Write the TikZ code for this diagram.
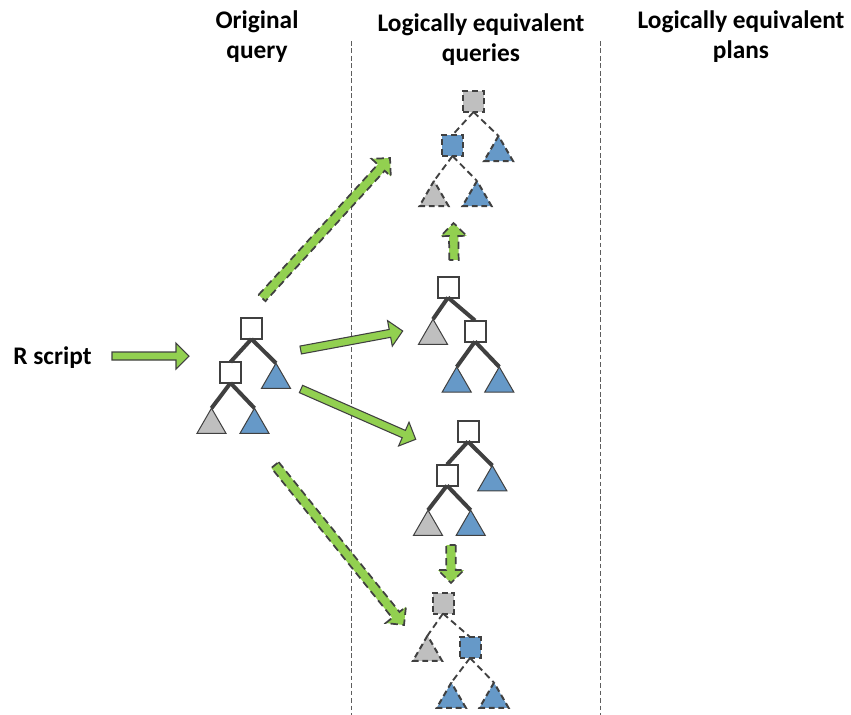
\documentclass[tikz,border=0pt]{standalone}
\usepackage{fontspec}
\setmainfont{Carlito}
\usetikzlibrary{shapes.geometric,calc}
\definecolor{ln}{HTML}{404040}
\definecolor{gy}{HTML}{BFBFBF}
\definecolor{bl}{HTML}{6699C8}
\definecolor{gr}{HTML}{92D050}
\tikzset{
  sq/.style={rectangle,draw=ln,minimum size=15.75pt,inner sep=0pt,outer sep=0pt},
  tri/.style={regular polygon,regular polygon sides=3,draw=ln,minimum size=25.2pt,inner sep=0pt,outer sep=0pt},
  solidbox/.style={line width=1.5pt,fill=white},
  dashbox/.style={line width=1.5pt,dash pattern=on 4.4pt off 2.8pt},
  solidtri/.style={line width=0.75pt},
  edgeS/.style={draw=ln,line width=3pt},
  edgeD/.style={draw=ln,line width=1.4pt,dash pattern=on 5pt off 3pt},
  arS/.style={draw=ln,line width=0.8pt,fill=gr,line join=miter},
  arD/.style={draw=ln,line width=1.3pt,fill=gr,dash pattern=on 5.5pt off 3.4pt},
  sep/.style={draw=ln!85,line width=0.55pt,dash pattern=on 3.6pt off 2pt},
  ttl/.style={font=\fontsize{19}{22.2}\selectfont\bfseries,align=center,inner sep=0pt,text=black}
}
% #1 style, #2 tail, #3 tip, #4 half shaft width
\newcommand\fatarrow[4]{%
  \coordinate (h) at ($(#3)!9.75pt!(#2)$);
  \draw[#1] ($(#2)!#4!90:(#3)$) -- ($(h)!#4!-90:(#2)$) -- ($(h)!9.75pt!-90:(#2)$) -- (#3)
    -- ($(h)!9.75pt!90:(#2)$) -- ($(h)!#4!90:(#2)$) -- ($(#2)!#4!-90:(#3)$) -- cycle;
}
\begin{document}
\begin{tikzpicture}[x=0.75pt,y=-0.75pt]
\useasboundingbox (0,0) rectangle (851,715);
% separators
\coordinate (s1t) at (351.5,41); \coordinate (s1b) at (351.5,715);
\coordinate (s2t) at (600.5,41); \coordinate (s2b) at (600.5,715);
\draw[sep] (s1t) -- (s1b);
\draw[sep] (s2t) -- (s2b);
% titles
\node[ttl] (t1) at (257,36.5) {Original\\query};
\node[ttl] (t2) at (481,39.5) {Logically equivalent\\queries};
\node[ttl] (t3) at (741,36.5) {Logically equivalent\\plans};
\node[ttl] (rs) at (52.5,358) {R script};
% original tree
\node[sq,solidbox] (a1) at (251.5,328.5) {};
\node[sq,solidbox] (a2) at (230.5,372.5) {};
\node[tri,solidtri,fill=bl] (a3) at (276,380) {};
\node[tri,solidtri,fill=gy] (a4) at (211.5,425) {};
\node[tri,solidtri,fill=bl] (a5) at (254.5,425) {};
\draw[edgeS] (a1.south) -- (a2.north);
\draw[edgeS] (a1.south) -- (a3.corner 1);
\draw[edgeS] (a2.south) -- (a4.corner 1);
\draw[edgeS] (a2.south) -- (a5.corner 1);
% top dashed tree
\node[sq,dashbox,fill=gy] (b1) at (473.5,101.5) {};
\node[sq,dashbox,fill=bl] (b2) at (452.5,145.5) {};
\node[tri,dashbox,fill=bl] (b3) at (498.5,152.7) {};
\node[tri,dashbox,fill=gy] (b4) at (434,197.7) {};
\node[tri,dashbox,fill=bl] (b5) at (477,197.7) {};
\draw[edgeD] (b1.south) -- (b2.north);
\draw[edgeD] (b1.south) -- (b3.corner 1);
\draw[edgeD] (b2.south) -- (b4.corner 1);
\draw[edgeD] (b2.south) -- (b5.corner 1);
% second tree
\node[sq,solidbox] (c1) at (448,287) {};
\node[sq,solidbox] (c2) at (475,331) {};
\node[tri,solidtri,fill=gy] (c3) at (433,336) {};
\node[tri,solidtri,fill=bl] (c4) at (456.7,383.7) {};
\node[tri,solidtri,fill=bl] (c5) at (499.3,383.7) {};
\draw[edgeS] (c1.south) -- (c3.corner 1);
\draw[edgeS] (c1.south) -- (c2.north);
\draw[edgeS] (c2.south) -- (c4.corner 1);
\draw[edgeS] (c2.south) -- (c5.corner 1);
% third tree
\node[sq,solidbox] (d1) at (468,431) {};
\node[sq,solidbox] (d2) at (447,475) {};
\node[tri,solidtri,fill=bl] (d3) at (492.3,482.4) {};
\node[tri,solidtri,fill=gy] (d4) at (428,527) {};
\node[tri,solidtri,fill=bl] (d5) at (470.7,527) {};
\draw[edgeS] (d1.south) -- (d2.north);
\draw[edgeS] (d1.south) -- (d3.corner 1);
\draw[edgeS] (d2.south) -- (d4.corner 1);
\draw[edgeS] (d2.south) -- (d5.corner 1);
% bottom dashed tree
\node[sq,dashbox,fill=gy] (e1) at (443,603) {};
\node[sq,dashbox,fill=bl] (e2) at (470,647.5) {};
\node[tri,dashbox,fill=gy] (e3) at (427.5,652.4) {};
\node[tri,dashbox,fill=bl] (e4) at (451.3,699.4) {};
\node[tri,dashbox,fill=bl] (e5) at (494,699.4) {};
\draw[edgeD] (e1.south) -- (e3.corner 1);
\draw[edgeD] (e1.south) -- (e2.north);
\draw[edgeD] (e2.south) -- (e4.corner 1);
\draw[edgeD] (e2.south) -- (e5.corner 1);
% arrows
\coordinate (r0) at (112,356); \coordinate (r1) at (189,356);
\fatarrow{arS}{r0}{r1}{3pt}
\coordinate (p0) at (300.7,350); \coordinate (p1) at (402.7,331);
\fatarrow{arS}{p0}{p1}{3pt}
\coordinate (q0) at (301,389); \coordinate (q1) at (415.7,439.3);
\fatarrow{arS}{q0}{q1}{3pt}
\coordinate (u0) at (262,298); \coordinate (u1) at (390,158);
\fatarrow{arD}{u0}{u1}{3.5pt}
\coordinate (v0) at (275,465); \coordinate (v1) at (404,625);
\fatarrow{arD}{v0}{v1}{3.5pt}
\coordinate (w0) at (454,260); \coordinate (w1) at (453.5,223);
\fatarrow{arD}{w0}{w1}{3.5pt}
\coordinate (z0) at (451,545); \coordinate (z1) at (451,583);
\fatarrow{arD}{z0}{z1}{3.5pt}
\end{tikzpicture}
\end{document}
